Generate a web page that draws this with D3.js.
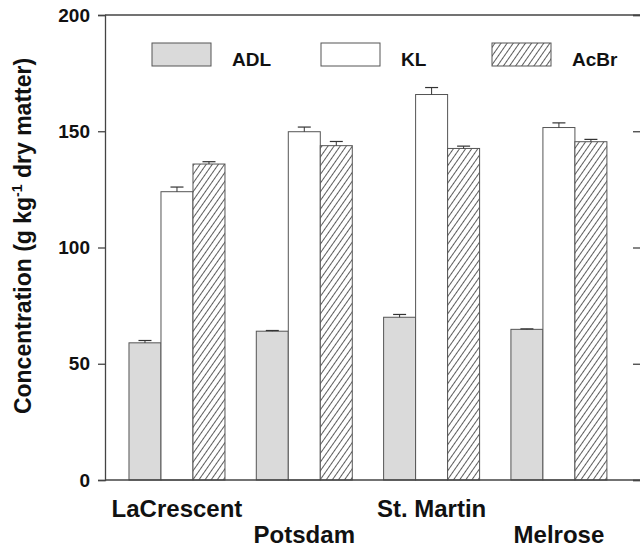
<!DOCTYPE html>
<html>
<head>
<meta charset="utf-8">
<script src="https://cdn.jsdelivr.net/npm/d3@7/dist/d3.min.js"></script>
<style>
  html, body { margin: 0; padding: 0; background: #fff; }
  svg { display: block; }
  text { font-family: "Liberation Sans", Arial, sans-serif; font-weight: bold; fill: #111; }
</style>
</head>
<body>
<svg id="chart" width="640" height="550"></svg>
<script>
// ---- data ----
const sites = ["LaCrescent", "Potsdam", "St. Martin", "Melrose"];
const series = ["ADL", "KL", "AcBr"];
const adlValues = [59, 64, 70, 64.8];
const adlErrors = [1.0, 0.3, 1.2, 0.2];
const klValues = [124, 149.8, 165.8, 151.6];
const klErrors = [2.0, 2.0, 3.0, 2.0];
const acbrValues = [135.9, 143.8, 142.6, 145.5];
const acbrErrors = [1.0, 1.8, 1.0, 1.0];
const yTicks = [0, 50, 100, 150, 200];

const valuesBySeries = { ADL: adlValues, KL: klValues, AcBr: acbrValues };
const errorsBySeries = { ADL: adlErrors, KL: klErrors, AcBr: acbrErrors };

const svg = d3.select("#chart");
const mLeft = 105, mRight = 642, mTop = 15, mBottom = 480;

// patterns
const defs = svg.append("defs");
const pat = defs.append("pattern")
  .attr("id", "hatch")
  .attr("patternUnits", "userSpaceOnUse")
  .attr("width", 5)
  .attr("height", 10)
  .attr("patternTransform", "rotate(35)");
pat.append("rect").attr("width", 5).attr("height", 10).attr("fill", "#fff");
pat.append("line").attr("x1", 2.5).attr("y1", 0).attr("x2", 2.5).attr("y2", 10)
  .attr("stroke", "#333").attr("stroke-width", 0.8);

const fills = { ADL: "#dadada", KL: "#ffffff", AcBr: "url(#hatch)" };

// scales
const y = d3.scaleLinear().domain([0, 200]).range([mBottom, mTop]);
const x0 = d3.scaleBand().domain(sites).range([mLeft, mRight])
  .paddingInner(0.246).paddingOuter(0.232).align(0.406);
const x1 = d3.scaleBand().domain(series).range([0, x0.bandwidth()]).padding(0);

// bars
const groups = svg.append("g").selectAll("g")
  .data(sites).join("g")
  .attr("transform", d => `translate(${x0(d)},0)`);

groups.selectAll("rect")
  .data((d, i) => series.map(s => ({ s, v: valuesBySeries[s][i], e: errorsBySeries[s][i] })))
  .join("rect")
  .attr("x", d => x1(d.s))
  .attr("y", d => y(d.v))
  .attr("width", x1.bandwidth())
  .attr("height", d => mBottom - y(d.v))
  .attr("fill", d => fills[d.s])
  .attr("stroke", "#555")
  .attr("stroke-width", 1);

// error bars (upper)
const eb = groups.selectAll("g.err")
  .data((d, i) => series.map(s => ({ s, v: valuesBySeries[s][i], e: errorsBySeries[s][i] })))
  .join("g").attr("class", "err");
eb.append("line")
  .attr("x1", d => x1(d.s) + x1.bandwidth() / 2)
  .attr("x2", d => x1(d.s) + x1.bandwidth() / 2)
  .attr("y1", d => y(d.v))
  .attr("y2", d => y(d.v + d.e))
  .attr("stroke", "#333").attr("stroke-width", 1);
eb.append("line")
  .attr("x1", d => x1(d.s) + x1.bandwidth() / 2 - 6.5)
  .attr("x2", d => x1(d.s) + x1.bandwidth() / 2 + 6.5)
  .attr("y1", d => y(d.v + d.e))
  .attr("y2", d => y(d.v + d.e))
  .attr("stroke", "#333").attr("stroke-width", 1.2);

// frame lines
svg.append("line").attr("x1", mLeft).attr("x2", 640).attr("y1", mTop).attr("y2", mTop)
  .attr("stroke", "#444").attr("stroke-width", 1.3);
svg.append("line").attr("x1", mLeft).attr("x2", 640).attr("y1", mBottom).attr("y2", mBottom)
  .attr("stroke", "#444").attr("stroke-width", 1.3);

// left axis
const yAxis = d3.axisLeft(y).tickValues(yTicks).tickSize(7).tickPadding(8).tickFormat(d3.format("d"));
const ga = svg.append("g").attr("transform", `translate(${mLeft},0)`).call(yAxis);
ga.select(".domain").attr("stroke", "#444").attr("stroke-width", 1.3);
ga.selectAll(".tick line").attr("stroke", "#444").attr("stroke-width", 1.3);
ga.selectAll(".tick text")
  .style("font-family", "'Liberation Sans', Arial, sans-serif")
  .style("font-weight", "bold").style("font-size", "19px").attr("fill", "#111");

// right axis (mostly cropped)
const yAxisR = d3.axisRight(y).tickValues(yTicks).tickSize(-9).tickFormat("");
const gr = svg.append("g").attr("transform", `translate(${mRight},0)`).call(yAxisR);
gr.select(".domain").attr("stroke", "#444").attr("stroke-width", 1.3);
gr.selectAll(".tick line").attr("stroke", "#444").attr("stroke-width", 1.3);

// category labels (staggered)
svg.append("g").selectAll("text")
  .data(sites).join("text")
  .attr("x", d => x0(d) + x0.bandwidth() / 2)
  .attr("y", (d, i) => i % 2 === 0 ? 517 : 543)
  .attr("text-anchor", "middle")
  .style("font-size", "24px")
  .text(d => d);

// y title
const title = svg.append("text")
  .attr("transform", "translate(31,236) rotate(-90)")
  .attr("text-anchor", "middle")
  .style("font-size", "23px");
title.append("tspan").text("Concentration (g kg");
title.append("tspan").attr("dy", -9).style("font-size", "14px").text("-1");
title.append("tspan").attr("dy", 9).text(" dry matter)");

// legend
const legendX = [152, 321, 492];
const lg = svg.append("g").selectAll("g")
  .data(series).join("g")
  .attr("transform", (d, i) => `translate(${legendX[i]},43)`);
lg.append("rect").attr("width", 59).attr("height", 23)
  .attr("fill", d => fills[d]).attr("stroke", "#555").attr("stroke-width", 1);
lg.append("text").attr("x", 80).attr("y", 23)
  .style("font-size", "19px").text(d => d);
</script>
</body>
</html>
